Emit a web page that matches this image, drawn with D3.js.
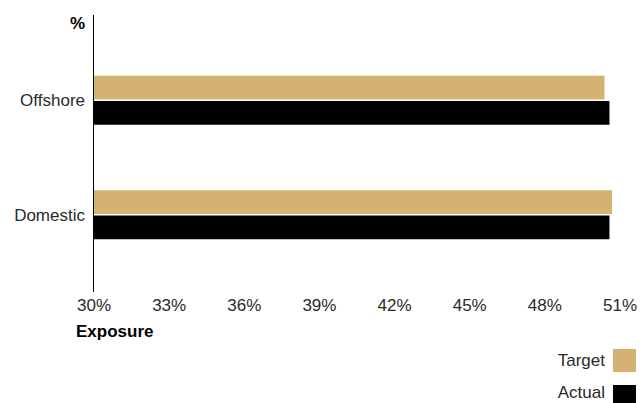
<!DOCTYPE html>
<html><head><meta charset="utf-8">
<script src="https://cdn.jsdelivr.net/npm/d3@7"></script>
<style>body{margin:0;background:#fff}text{font-family:"Liberation Sans",Arial,sans-serif}</style>
</head><body><svg id="c" width="641" height="403"></svg>
<script>
const categories = ["Offshore", "Domestic"];
const seriesNames = ["Target", "Actual"];
const targetValues = [50.4, 50.7];
const actualValues = [50.6, 50.6];
const xTicks = [30, 33, 36, 39, 42, 45, 48, 51];
const colors = ["#d4b271", "#000000"];

const svg = d3.select("#c");
const x = d3.scaleLinear().domain([30, 51]).range([93.5, 619.5]);
const y = d3.scaleBand().domain(categories).range([43, 272]).padding(0);
const inner = d3.scaleBand().domain(seriesNames).range([0, 49]).paddingInner(0.06);
const series = [targetValues, actualValues];

const g = svg.append("g");
seriesNames.forEach((s, si) => {
  g.selectAll(".b" + si).data(categories).enter().append("rect")
    .attr("x", x(30))
    .attr("y", (d) => y(d) + y.bandwidth() / 2 - 24.5 + inner(s))
    .attr("width", (d, i) => x(series[si][i]) - x(30))
    .attr("height", inner.bandwidth())
    .attr("fill", colors[si]);
});

// y axis line
svg.append("line").attr("x1", 93.5).attr("x2", 93.5).attr("y1", 15).attr("y2", 292)
  .attr("stroke", "#000").attr("stroke-width", 1);

// category labels
svg.selectAll(".cl").data(categories).enter().append("text")
  .attr("x", 85).attr("y", (d) => y(d) + y.bandwidth() / 2 + 6)
  .attr("text-anchor", "end").attr("font-size", 17).attr("fill", "#2a2a2a").text((d) => d);

// x ticks
const xAxis = d3.axisBottom(x).tickValues(xTicks).tickSize(0).tickFormat((d) => d + "%");
const ax = svg.append("g").attr("transform", "translate(0,292)").call(xAxis);
ax.select(".domain").remove();
ax.selectAll("text").attr("font-size", 17).attr("fill", "#2a2a2a").attr("dy", 0).attr("y", 19)
  .style("font-family", '"Liberation Sans",Arial,sans-serif');

svg.append("text").attr("x", 76).attr("y", 337).attr("font-size", 17).attr("font-weight", "bold")
  .attr("fill", "#000").text("Exposure");
svg.append("text").attr("x", 85).attr("y", 29).attr("text-anchor", "end").attr("font-size", 17)
  .attr("font-weight", "bold").attr("fill", "#000").text("%");

// legend
const legY = [349, 385];
const leg = svg.selectAll(".lg").data(seriesNames).enter().append("g")
  .attr("transform", (d, i) => `translate(0,${legY[i]})`);
leg.append("rect").attr("x", 613).attr("y", 0).attr("width", 23).attr("height", 23)
  .attr("fill", (d, i) => colors[i]);
leg.append("text").attr("x", 605).attr("y", (d, i) => i === 0 ? 17 : 13).attr("text-anchor", "end").attr("font-size", 17)
  .attr("fill", "#2a2a2a").text((d) => d);
</script></body></html>
